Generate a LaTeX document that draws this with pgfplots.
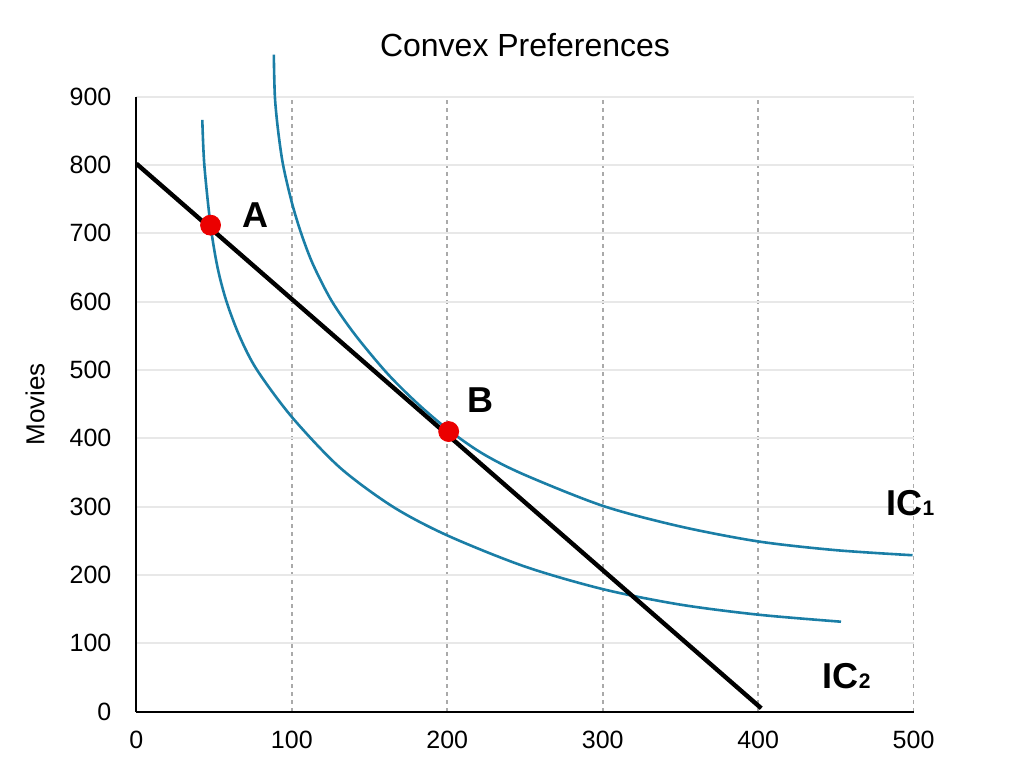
\documentclass[border=0pt]{standalone}
\usepackage{fontspec}
\setmainfont{Liberation Sans}
\usepackage{pgfplots}
\pgfplotsset{compat=1.18}
\definecolor{icblue}{RGB}{26,126,166}
\definecolor{gridgray}{RGB}{232,232,232}
\definecolor{dotgray}{RGB}{170,170,170}
\definecolor{ptred}{RGB}{235,0,0}
\begin{document}
\begin{tikzpicture}
\useasboundingbox (-68.2pt,-28.15pt) rectangle (443.8pt,355.85pt);
\begin{axis}[
  at={(0,0)}, anchor=south west,
  scale only axis, width=388.6pt, height=307.5pt,
  xmin=0, xmax=500, ymin=0, ymax=900,
  xtick={0,100,...,500}, ytick={0,100,...,900},
  axis x line*=bottom, axis y line*=left,
  axis line style={black, line width=1.1pt},
  major tick length=0pt,
  xmajorgrids, ymajorgrids,
  major x grid style={dotgray, line width=0.8pt, dash pattern=on 2pt off 2pt},
  major y grid style={gridgray, line width=1pt},
  tick label style={font=\fontsize{12.5}{14}\selectfont},
  /pgf/number format/assume math mode=true,
  yticklabel style={xshift=-9pt},
  xticklabel style={yshift=-6pt},
  ylabel={Movies},
  ylabel style={at={(axis description cs:-0.1305,0.5)}, anchor=center, font=\fontsize{13}{15}\selectfont},
  clip=false,
]
% indifference curve IC1
\addplot[icblue, line width=1.3pt, smooth] coordinates {
(88.4,961.5) (89.1,900) (91.2,849.8) (94.4,799.8) (100,745.1) (106.2,698.7)
(113.7,654.2) (125.5,601.6) (140.5,552.2) (160.9,496.3) (180,452.8) (199.6,414.5)
(222,378.7) (248.7,347.7) (300,301.3) (349.4,271.3) (400,249.2) (450,236.4) (499.3,229)};
% indifference curve IC2
\addplot[icblue, line width=1.3pt, smooth] coordinates {
(42.4,866) (43.7,800.1) (47.7,712) (52.2,650.1) (58,600) (66.5,548.8) (77.6,500.1)
(100,431.3) (130.8,357.5) (165,300) (200,258) (249.7,212.6) (300,179.4)
(349.4,156.9) (400,142) (453.3,131.7)};
% budget line
\addplot[black, line width=2.2pt] coordinates {(0,802) (402,5)};
% points A and B
\addplot[only marks, mark=*, mark size=5pt, mark options={fill=ptred, draw=ptred}] coordinates {(47.7,712) (200.9,410)};
\node[font=\fontsize{18}{20}\selectfont\bfseries] at (axis cs:76.9,727) {A};
\node[font=\fontsize{18}{20}\selectfont\bfseries] at (axis cs:221.5,455.5) {B};
\node[anchor=base west, inner sep=0pt, font=\fontsize{18}{20}\selectfont\bfseries] at (axis cs:482.4,286.7) {IC{\fontsize{10.5}{12}\selectfont 1}};
\node[anchor=base west, inner sep=0pt, font=\fontsize{18}{20}\selectfont\bfseries] at (axis cs:441.4,34.2) {IC{\fontsize{10.5}{12}\selectfont 2}};
\node[anchor=base, font=\fontsize{16}{18}\selectfont] at (rel axis cs:0.5,1) [yshift=20.3pt] {Convex Preferences};
\end{axis}
\end{tikzpicture}
\end{document}
